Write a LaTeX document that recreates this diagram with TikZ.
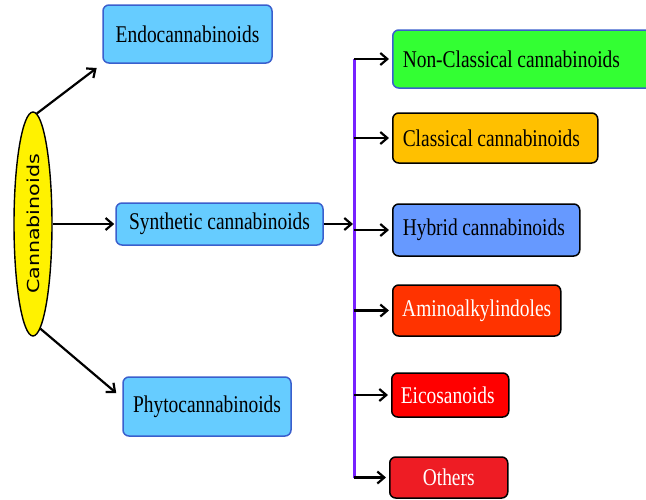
\documentclass[tikz,border=0pt]{standalone}
\usepackage{graphicx}
\usepackage{fontspec}
\setmainfont{Liberation Serif}[FakeStretch=0.81]
\newfontfamily\ellfont{DejaVu Sans}
\usetikzlibrary{shapes.geometric,arrows.meta}

\definecolor{skyfill}{HTML}{66CCFF}
\definecolor{skyline}{HTML}{3A5FCD}
\definecolor{greenfill}{HTML}{33FF33}
\definecolor{amberfill}{HTML}{FFC000}
\definecolor{hybridfill}{HTML}{6699FF}
\definecolor{aminofill}{HTML}{FF3300}
\definecolor{eicofill}{HTML}{FF0000}
\definecolor{otherfill}{HTML}{EE1C24}
\definecolor{busviolet}{HTML}{7722FF}

\newcommand\boxfont{\fontsize{24}{26}\selectfont}

\begin{document}
\begin{tikzpicture}[x=1pt, y=-1pt,
        box/.style={rectangle, draw, rounded corners=6pt, line width=1.5pt, inner sep=0pt, font=\boxfont},
        bluebox/.style={box, fill=skyfill, draw=skyline, text centered},
        subbox/.style={box, anchor=west, align=left, execute at begin node={\spaceskip=4.5pt plus 1pt\relax}},
        arr/.style={line width=2.2pt, -{Straight Barb[length=7pt,width=12pt]}},
        busline/.style={draw=busviolet, line width=3pt}
    ]

    \useasboundingbox (0,0) rectangle (646,499);

    % root
    \node[ellipse, draw, fill=yellow, line width=1.4pt, rotate=90, minimum width=224pt, minimum height=38pt, inner sep=0pt] (cann) at (33,224)
        {\ellfont\fontsize{16.5}{18}\selectfont\scalebox{1.25}[1]{Cannabinoids}};

    % first level
    \node[bluebox, minimum width=169pt, minimum height=58pt] (endo) at (187.5,34) {Endocannabinoids};
    \node[bluebox, minimum width=207pt, minimum height=42pt] (synth) at (219.5,224) {Synthetic cannabinoids};
    \node[bluebox, minimum width=168pt, minimum height=59pt] (phyto) at (207,406.5) {Phytocannabinoids};

    % synthetic subclasses
    \node[subbox, fill=greenfill, draw=skyline, text width=240pt, minimum width=260pt, minimum height=58pt] (noncl) at (392,59) {Non-Classical cannabinoids};
    \node[subbox, fill=amberfill, text width=185pt, minimum width=205pt, minimum height=50pt] (classical) at (392,138) {Classical cannabinoids};
    \node[subbox, fill=hybridfill, text width=167pt, minimum width=187pt, minimum height=52pt] (hybrid) at (392,230) {Hybrid cannabinoids};
    \node[subbox, fill=aminofill, text=white, align=center, text width=150pt, minimum width=168pt, minimum height=51pt] (amino) at (392,310.5) {Aminoalkylindoles};
    \node[subbox, fill=eicofill, text=white, text width=99pt, minimum width=117pt, minimum height=44pt] (eico) at (391,395) {Eicosanoids};
    \node[subbox, fill=otherfill, text=white, align=center, text width=98pt, minimum width=118pt, minimum height=41pt] (others) at (389,477.5) {Others};

    % connectors
    \coordinate (bus) at (354,0);
    \draw[busline] (noncl.west -| bus) -- (others.west -| bus);

    \draw[arr, shorten >=7pt] (cann.-2) -- (endo.south west);
    \draw[arr, shorten >=1pt] (cann.south) -- (synth.west);
    \draw[arr] (cann.184) -- ([shift={(-6,-13.5)}]phyto.west);
    \draw[arr, shorten >=1pt] (synth.east) -- (synth.east -| bus);
    \foreach \n in {noncl,classical,hybrid,amino,eico,others}
        \draw[arr, shorten >=3pt] (\n.west -| bus) -- (\n.west);

\end{tikzpicture}
\end{document}
